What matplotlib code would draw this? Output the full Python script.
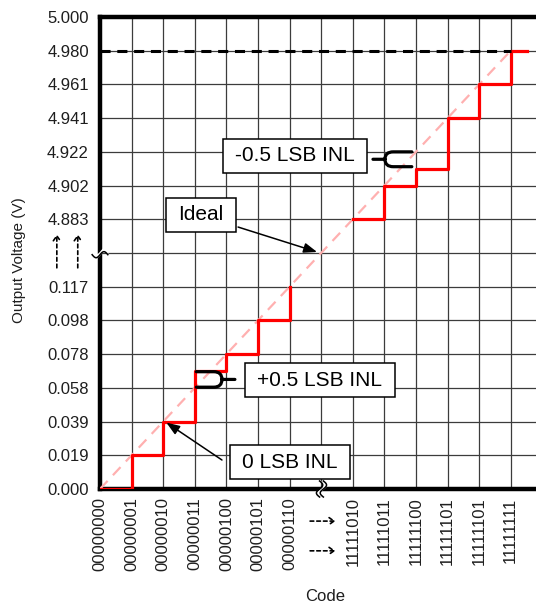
import numpy as np
import matplotlib.pyplot as plt
from matplotlib.path import Path
from matplotlib.patches import PathPatch

plt.rcParams['font.family'] = ['Liberation Sans', 'DejaVu Sans']

# ------------------------------------------------------------
# 8-bit DAC, 5 V full scale
# ------------------------------------------------------------
full_scale = 5.0
lsb = full_scale / 256

# codes drawn at the low and high end of the range
codes_low = [0, 1, 2, 3, 4, 5, 6]
codes_high = [250, 251, 252, 253, 254, 255]

# actual output of each code, in LSB
out_low = [0, 1, 2, 3.5, 4, 5, 6]
out_high = [250, 251, 251.5, 253, 254, 255]

code_labels = ["00000000", "00000001", "00000010", "00000011", "00000100",
               "00000101", "00000110",
               "11111010", "11111011", "11111100", "11111101", "11111101",
               "11111111"]
volt_labels = ["0.000", "0.019", "0.039", "0.058", "0.078", "0.098", "0.117",
               "4.883", "4.902", "4.922", "4.941", "4.961", "4.980", "5.000"]

ideal_codes = [0, 255]
ref_level_lsb = 255          # 4.980 V line


# broken axis: everything above code 128 is pulled down next to the low end
def pos(c):
    c = np.asarray(c, dtype=float)
    return np.where(c < 128, c, c - 242)


x_low, y_low = pos(codes_low), pos(out_low)
x_high = np.append(pos(codes_high), pos(codes_high[-1]) + 0.5)
y_high = np.append(pos(out_high), pos(out_high[-1]))

volt_pos = pos(np.round(np.array(volt_labels, dtype=float) / lsb))
code_pos = pos(codes_low + codes_high)

# ------------------------------------------------------------
# Figure
# ------------------------------------------------------------
fig = plt.figure(figsize=(5.36, 6.08), dpi=100)
ax = fig.add_axes([100 / 536, 119 / 608, 436 / 536, 472 / 608])

ax.set_xlim(0, 13.8)
ax.set_ylim(0, 14)

ax.set_xticks(list(code_pos) + [7])
ax.set_xticklabels(code_labels + [""], rotation=90)
ax.set_yticks(list(volt_pos) + [7])
ax.set_yticklabels(volt_labels + [""])
ax.tick_params(length=0, labelsize=12, colors="#1e1e1e")
ax.tick_params(axis="y", pad=8)
ax.tick_params(axis="x", pad=6)

ax.grid(True, color="#3c3c3c", lw=0.9)
ax.set_axisbelow(True)

ax.spines["right"].set_visible(False)
for s in ["left", "bottom", "top"]:
    ax.spines[s].set_linewidth(3.2)
    ax.spines[s].set_color("black")
    ax.spines[s].set_capstyle("projecting")

# ideal transfer line
ax.plot(pos(ideal_codes), pos(ideal_codes), color="#ffb0b0", lw=1.6,
        dashes=(5, 3.5), zorder=3)

# actual DAC output
ax.plot(x_low, y_low, drawstyle="steps-post", color="#ff0000", lw=2.3, zorder=4)
ax.plot(x_high, y_high, drawstyle="steps-post", color="#ff0000", lw=2.3, zorder=4)

# full-scale output reference
ax.plot(pos(ideal_codes), pos([ref_level_lsb] * 2), color="black", lw=2.2,
        dashes=(3.3, 2.2), zorder=4)


# INL brackets
def bracket(x_tip, x_bend, x_end, y_top, y_bot, stub_end):
    ym = (y_top + y_bot) / 2
    verts = [(x_end, y_top), (x_bend, y_top), (x_tip, y_top), (x_tip, ym),
             (x_tip, y_bot), (x_bend, y_bot), (x_end, y_bot),
             (x_tip, ym), (stub_end, ym)]
    codes = [Path.MOVETO, Path.LINETO, Path.CURVE3, Path.CURVE3,
             Path.CURVE3, Path.CURVE3, Path.LINETO,
             Path.MOVETO, Path.LINETO]
    ax.add_patch(PathPatch(Path(verts, codes), fc="none", ec="black", lw=2.3,
                           capstyle="round", zorder=6))


bracket(9.02, 9.28, 9.87, 10.0, 9.56, 8.64)
bracket(3.86, 3.6, 3.05, 3.48, 3.02, 4.27)

box = dict(boxstyle="square,pad=0.6", fc="white", ec="black", lw=1.1,
           mutation_aspect=0.62)
ax.text(6.17, 9.88, "-0.5 LSB INL", fontsize=15, ha="center", va="center",
        bbox=box, zorder=7)
ax.text(3.2, 8.13, "Ideal", fontsize=15, ha="center", va="center",
        bbox=box, zorder=7)
ax.text(6.96, 3.23, "+0.5 LSB INL", fontsize=15, ha="center", va="center",
        bbox=box, zorder=7)
ax.text(6.01, 0.80, "0 LSB INL", fontsize=15, ha="center", va="center",
        bbox=box, zorder=7)

arrow = dict(arrowstyle="-|>,head_length=0.8,head_width=0.3", color="black",
             lw=1.1, shrinkA=0, shrinkB=0)
ax.annotate("", xy=(6.87, 7.03), xytext=(4.37, 7.77), arrowprops=arrow,
            zorder=7)
ax.annotate("", xy=(2.1, 1.97), xytext=(3.86, 0.86), arrowprops=arrow,
            zorder=7)

# axis break marks
t = np.linspace(-1, 1, 30)
ytr = ax.get_yaxis_transform()
xtr = ax.get_xaxis_transform()
ax.fill_between(t * 0.018, 7 - 0.05 + 0.09 * np.sin(np.pi * t),
                7 + 0.07 + 0.09 * np.sin(np.pi * t), transform=ytr,
                color="white", clip_on=False, zorder=8, lw=0)
ax.plot(t * 0.018, 7 - 0.05 + 0.09 * np.sin(np.pi * t), transform=ytr,
        color="black", lw=1.1, clip_on=False, zorder=9)
ax.fill_betweenx(t * 0.017, 7 - 0.05 + 0.1 * np.sin(np.pi * t),
                 7 + 0.07 + 0.1 * np.sin(np.pi * t), transform=xtr,
                 color="white", clip_on=False, zorder=8, lw=0)
for dx in (-0.05, 0.07):
    ax.plot(7 + dx + 0.1 * np.sin(np.pi * t), t * 0.017, transform=xtr,
            color="black", lw=1.1, clip_on=False, zorder=9)

# dashed "continues" arrows across the break
cont = dict(arrowstyle="->,head_length=0.35,head_width=0.25", color="black",
            lw=1.2, linestyle=(0, (2.2, 1.8)), shrinkA=0, shrinkB=0)
for yf in (-0.068, -0.131):
    ax.annotate("", xy=(7.45, yf), xytext=(6.65, yf),
                xycoords=("data", "axes fraction"),
                textcoords=("data", "axes fraction"), arrowprops=cont,
                annotation_clip=False)
for xf in (-0.099, -0.051):
    ax.annotate("", xy=(xf, 7.55), xytext=(xf, 6.56),
                xycoords=("axes fraction", "data"),
                textcoords=("axes fraction", "data"), arrowprops=cont,
                annotation_clip=False)

ax.set_ylabel("Output Voltage (V)", fontsize=11, color="#1e1e1e")
ax.yaxis.set_label_coords(-0.17, 0.485)
ax.set_xlabel("Code", fontsize=12, color="#1e1e1e")
ax.xaxis.set_label_coords(0.516, -0.212)

fig.savefig("out.png", dpi=100)
